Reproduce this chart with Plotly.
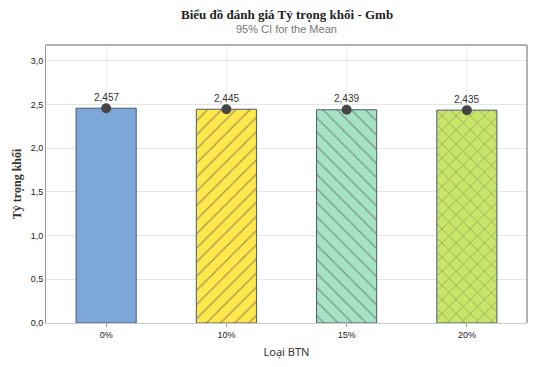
import plotly.graph_objects as go

categories = ["0%", "10%", "15%", "20%"]
means = [2.457, 2.445, 2.439, 2.435]
labels = ["2,457", "2,445", "2,439", "2,435"]
colors = ["#7DA7D9", "#FFE84D", "#A6E3C4", "#C9E56A"]
patterns = ["", "/", "\\", "x"]
y_ticks = [0, 0.5, 1.0, 1.5, 2.0, 2.5, 3.0]
y_tick_labels = ["0,0", "0,5", "1,0", "1,5", "2,0", "2,5", "3,0"]

fig = go.Figure()
fig.add_trace(go.Bar(
    x=categories, y=means, width=0.5,
    marker=dict(color=colors, line=dict(color="#4a5a6a", width=1),
                pattern=dict(shape=patterns, fgcolor="#333333", size=10, solidity=0.12)),
    hoverinfo="skip", showlegend=False,
))
fig.add_trace(go.Scatter(
    x=categories, y=means, mode="markers",
    marker=dict(color="#454545", size=10),
    error_y=dict(type="constant", value=0.004, color="#454545", thickness=1.5, width=0),
    showlegend=False,
))
for c, m, t in zip(categories, means, labels):
    fig.add_annotation(x=c, y=m, text=t, showarrow=False, yshift=11,
                       font=dict(family="Liberation Sans", size=10, color="#333333"))

fig.add_annotation(xref="paper", yref="paper", x=0.5, y=1, yshift=31, yanchor="middle",
                   text="<b>Biểu đồ đánh giá Tỷ trọng khối - Gmb</b>", showarrow=False,
                   font=dict(family="Liberation Serif", size=13, color="#222222"))
fig.add_annotation(xref="paper", yref="paper", x=0.5, y=1, yshift=16, yanchor="middle",
                   text="95% CI for the Mean", showarrow=False,
                   font=dict(family="Liberation Sans", size=11, color="#777777"))

fig.update_layout(
    width=536, height=359,
    margin=dict(l=38, r=17, t=37, b=44),
    plot_bgcolor="white", paper_bgcolor="white",
    xaxis=dict(
        title=dict(text="Loại BTN", font=dict(family="Noto Sans", size=11, color="#333333"), standoff=9),
        tickfont=dict(family="Liberation Sans", size=9, color="#222222"),
        showline=True, linecolor="#cccccc", linewidth=1, mirror=False,
        showgrid=True, gridcolor="#eeeeee",
        ticks="outside", ticklen=3, tickcolor="#999999", automargin=False,
    ),
    yaxis=dict(
        title=dict(text="<b>Tỷ trọng khối</b>", font=dict(family="Liberation Serif", size=12, color="#333333"), standoff=6),
        range=[0, 3.18], tickvals=y_ticks, ticktext=y_tick_labels,
        tickfont=dict(family="Liberation Sans", size=9, color="#222222"),
        showline=True, linecolor="#999999", linewidth=1, mirror=False,
        showgrid=True, gridcolor="#e6e6e6", zeroline=False, ticks="", automargin=False,
    ),
    shapes=[
        dict(type="line", xref="paper", yref="paper", x0=0, x1=1, y0=1, y1=1,
             line=dict(color="#999999", width=1.5)),
        dict(type="line", xref="paper", yref="paper", x0=1, x1=1, y0=0, y1=1,
             line=dict(color="#999999", width=1.5)),
    ],
)
fig.write_html("out.html")
